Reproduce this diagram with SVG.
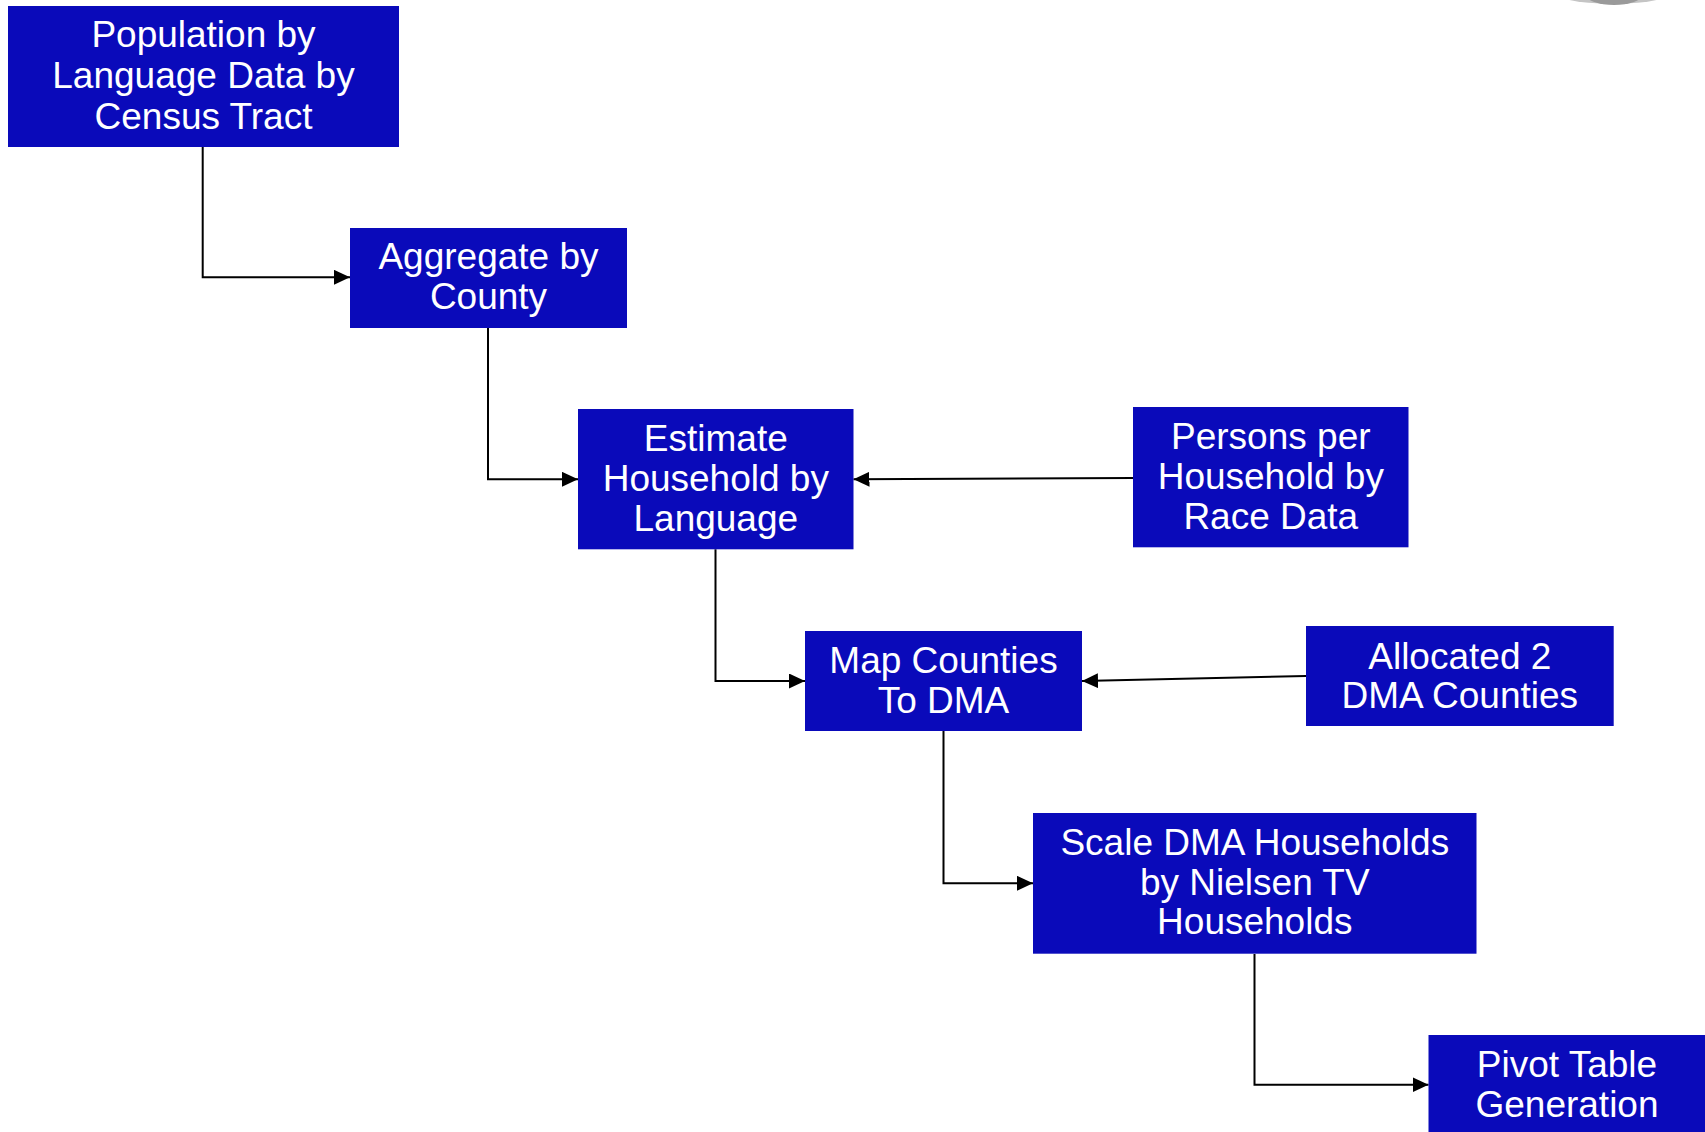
<svg xmlns="http://www.w3.org/2000/svg" width="1705" height="1132" viewBox="0 0 1705 1132">
<style>
.box{fill:#0A0ABA;}
.lbl{font-family:"Liberation Sans",Arial,sans-serif;font-size:37px;fill:#ffffff;text-anchor:middle;}
.edge{fill:none;stroke:#000;stroke-width:2;}
</style>
<defs>
<marker id="arr" markerUnits="userSpaceOnUse" markerWidth="16" markerHeight="15" refX="16" refY="7.5" orient="auto">
<path d="M0,0 L16,7.5 L0,15 z" fill="#000"/>
</marker>
</defs>
<rect width="1705" height="1132" fill="#ffffff"/>
<g id="artifact">
<ellipse cx="1613" cy="-11" rx="64" ry="15" fill="#c4c4c4"/>
<ellipse cx="1614" cy="-5" rx="28" ry="10" fill="#9a9a9a"/>
</g>
<g id="connectors">
<path class="edge" d="M202.7,147 V277.3 H350" marker-end="url(#arr)"/>
<path class="edge" d="M488,328 V479.3 H578" marker-end="url(#arr)"/>
<path class="edge" d="M1133,478 L853.5,479.3" marker-end="url(#arr)"/>
<path class="edge" d="M715.5,549.3 V681 H805" marker-end="url(#arr)"/>
<path class="edge" d="M1306,676 L1082,681" marker-end="url(#arr)"/>
<path class="edge" d="M943.5,731 V883.3 H1033" marker-end="url(#arr)"/>
<path class="edge" d="M1254.5,954 V1084.7 H1428.5" marker-end="url(#arr)"/>
</g>
<g id="n1">
<rect class="box" x="8" y="6" width="391" height="141"/>
<text class="lbl" x="203.5" y="47">Population by</text>
<text class="lbl" x="203.5" y="87.8">Language Data by</text>
<text class="lbl" x="203.5" y="128.5">Census Tract</text>
</g>
<g id="n2">
<rect class="box" x="350" y="228" width="277" height="100"/>
<text class="lbl" x="488.5" y="269.3">Aggregate by</text>
<text class="lbl" x="488.5" y="309.3">County</text>
</g>
<g id="n3">
<rect class="box" x="578" y="409" width="275.5" height="140.3"/>
<text class="lbl" x="715.8" y="451">Estimate</text>
<text class="lbl" x="715.8" y="491">Household by</text>
<text class="lbl" x="715.8" y="531">Language</text>
</g>
<g id="n4">
<rect class="box" x="1133" y="407" width="275.5" height="140.3"/>
<text class="lbl" x="1270.8" y="449.3">Persons per</text>
<text class="lbl" x="1270.8" y="489.3">Household by</text>
<text class="lbl" x="1270.8" y="529.3">Race Data</text>
</g>
<g id="n5">
<rect class="box" x="805" y="631" width="277" height="100"/>
<text class="lbl" x="943.5" y="672.7">Map Counties</text>
<text class="lbl" x="943.5" y="712.7">To DMA</text>
</g>
<g id="n6">
<rect class="box" x="1306" y="626" width="307.7" height="100"/>
<text class="lbl" x="1459.8" y="668.5">Allocated 2</text>
<text class="lbl" x="1459.8" y="707.7">DMA Counties</text>
</g>
<g id="n7">
<rect class="box" x="1033" y="813" width="443.5" height="140.7"/>
<text class="lbl" x="1254.8" y="855">Scale DMA Households</text>
<text class="lbl" x="1254.8" y="895">by Nielsen TV</text>
<text class="lbl" x="1254.8" y="934.3">Households</text>
</g>
<g id="n8">
<rect class="box" x="1428.5" y="1035" width="277" height="100"/>
<text class="lbl" x="1567" y="1077">Pivot Table</text>
<text class="lbl" x="1567" y="1117">Generation</text>
</g>
</svg>
